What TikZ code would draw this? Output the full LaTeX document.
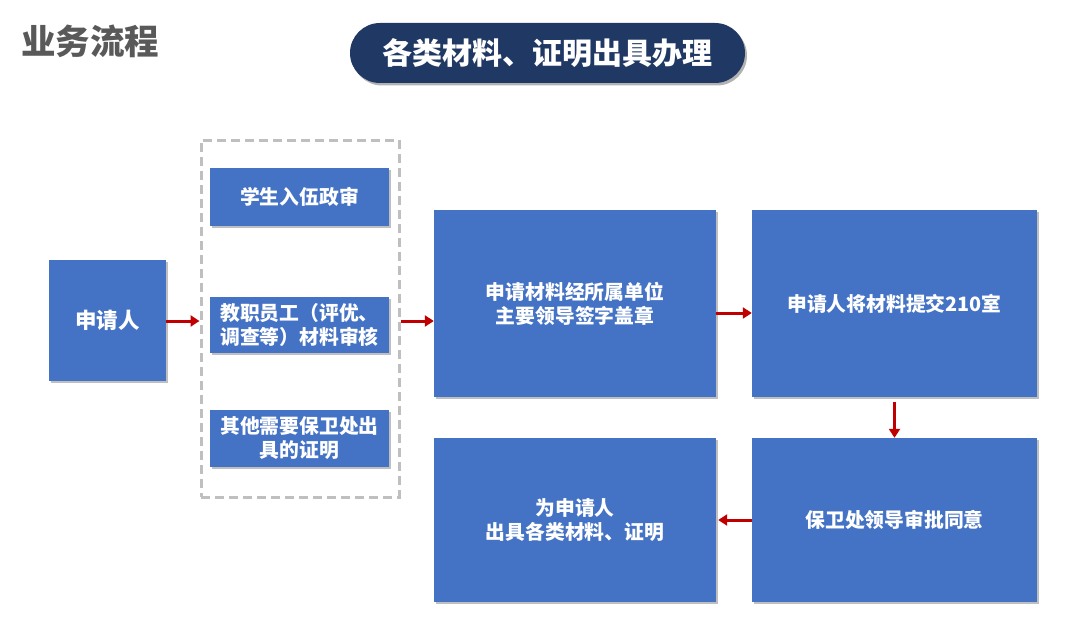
\documentclass[tikz,border=0pt]{standalone}
\usepackage{fontspec}
\setmainfont{Noto Sans CJK SC}
\usetikzlibrary{arrows.meta,shadows}
\definecolor{boxblue}{HTML}{4472C4}
\definecolor{navy}{HTML}{203864}
\definecolor{arrred}{HTML}{C00000}
\definecolor{titlegray}{HTML}{595959}
\definecolor{dashgray}{HTML}{BFBFBF}
\tikzset{
  box/.style={fill=boxblue, draw=none, inner sep=0pt, text=white, font=\bfseries\fontsize{19.8}{24}\selectfont, align=center,
    drop shadow={shadow xshift=1.5pt, shadow yshift=-1.5pt, fill=black, opacity=0.25}},
  arr/.style={draw=arrred, line width=3pt, -{Triangle[length=9pt,width=11pt]}},
}
\begin{document}
\begin{tikzpicture}[x=1pt,y=-1pt]
\useasboundingbox (0,0) rectangle (1082,634);
\fill[white] (0,0) rectangle (1082,634);
% title
\node[anchor=west, inner sep=0pt, text=titlegray, font=\bfseries\fontsize{34.5}{38}\selectfont] (title) at (21,41) {业务流程};
% pill
\node[fill=navy, rounded corners=30pt, minimum width=395pt, minimum height=60pt, inner sep=0pt, text=white,
  font=\bfseries\fontsize{30}{34}\selectfont,
  drop shadow={shadow xshift=2pt, shadow yshift=-2.5pt, fill=black, opacity=0.3}] (pill) at (547.5,53) {各类材料、证明出具办理};
% applicant
\node[box, minimum width=117pt, minimum height=121pt, font=\bfseries\fontsize{21.5}{26}\selectfont] (app) at (107.5,320.5) {申请人};
% dashed group
\node[draw=dashgray, dash pattern=on 9pt off 5pt, line width=3pt, minimum width=198pt, minimum height=357pt, inner sep=0pt] (grp) at (300,318.5) {};
\node[box, minimum width=179pt, minimum height=58pt] (b1) at (299.5,197) {学生入伍政审};
\node[box, minimum width=179pt, minimum height=56pt] (b2) at (299.5,325) {教职员工（评优、\\调查等）材料审核};
\node[box, minimum width=179pt, minimum height=57pt] (b3) at (299.5,438.5) {其他需要保卫处出\\具的证明};
% main steps
\node[box, minimum width=282pt, minimum height=187pt] (s1) at (575,303.5) {申请材料经所属单位\\主要领导签字盖章};
\node[box, minimum width=285pt, minimum height=187pt] (s2) at (894.5,303.5) {申请人将材料提交210室};
\node[box, minimum width=285pt, minimum height=164pt] (s3) at (894.5,520) {保卫处领导审批同意};
\node[box, minimum width=282pt, minimum height=164pt] (s4) at (575,520) {为申请人\\出具各类材料、证明};
% arrows
\coordinate (ya) at (0,321);
\coordinate (yb) at (0,313);
\draw[arr] (app.east |- ya) -- (grp.west |- ya);
\draw[arr] (grp.east |- ya) -- (s1.west |- ya);
\draw[arr] (s1.east |- yb) -- (s2.west |- yb);
\draw[arr, shorten <=5pt] (s2.south) -- (s3.north);
\draw[arr, shorten >=2pt] (s3.west) -- (s4.east);
\end{tikzpicture}
\end{document}
